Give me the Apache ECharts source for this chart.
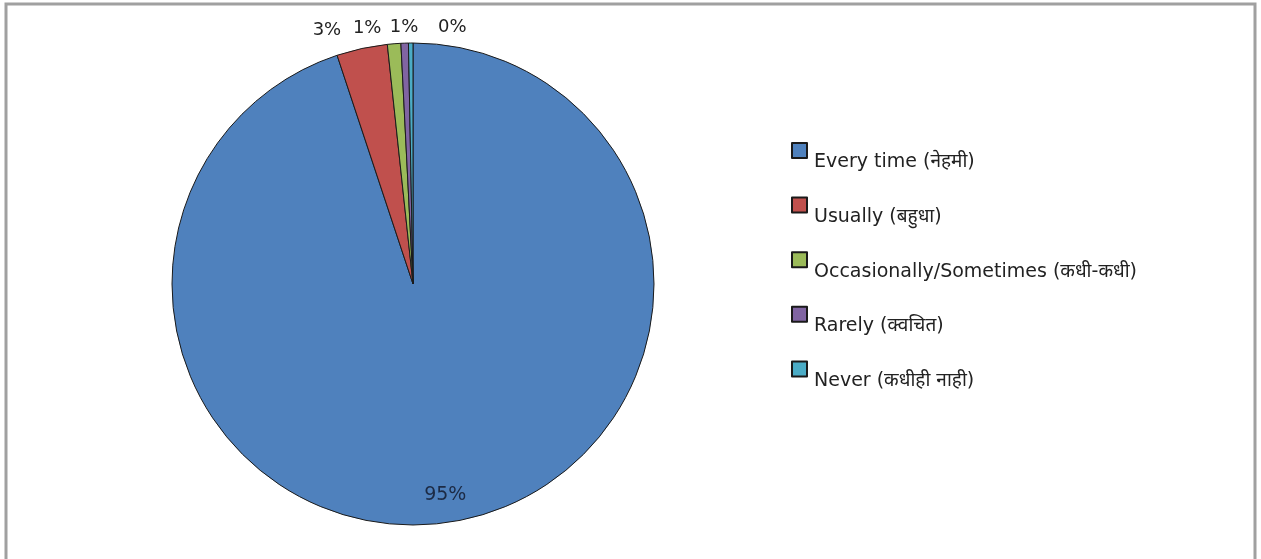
<!DOCTYPE html>
<html>
<head>
<meta charset="utf-8">
<script src="https://cdn.jsdelivr.net/npm/echarts@6/dist/echarts.min.js"></script>
<style>
html,body{margin:0;padding:0;background:#fff;}
#chart{width:1261px;height:559px;}
</style>
</head>
<body>
<div id="chart"></div>
<script>
// ---- data ----
const categories = [
  'Every time (नेहमी)',
  'Usually (बहुधा)',
  'Occasionally/Sometimes (कधी-कधी)',
  'Rarely (क्वचित)',
  'Never (कधीही नाही)'
];
const values = [94.9, 3.4, 0.9, 0.5, 0.3];
const colors = ['#4f81bd', '#c0504d', '#9bbb59', '#8064a2', '#4bacc6'];
// label nudges (style only)
const labelShift = [[12.6, 89.6], [-19, -10], [-12, -7], [14, -8], [56, -8]];

const FONT = '"DejaVu Sans", "Noto Sans", sans-serif';
const chart = echarts.init(document.getElementById('chart'));
chart.setOption({
  animation: false,
  color: colors,
  graphic: [{
    type: 'rect',
    shape: { x: 6, y: 4, width: 1249, height: 620 },
    style: { fill: 'none', stroke: '#a0a0a0', lineWidth: 3 },
    silent: true
  }],
  legend: {
    orient: 'vertical',
    left: 791,
    top: 142,
    padding: 0,
    itemWidth: 15,
    itemHeight: 15,
    itemGap: 24.6,
    icon: 'rect',
    formatter: n => '{t|' + n + '}',
    textStyle: {
      fontFamily: FONT, fontSize: 19, color: '#222',
      rich: { t: { fontFamily: FONT, fontSize: 19, color: '#222', padding: [24, 0, 0, 2] } }
    },
    data: categories
  },
  series: [{
    type: 'pie',
    center: [413, 284],
    radius: 241,
    startAngle: 90,
    clockwise: true,
    avoidLabelOverlap: false,
    itemStyle: { borderColor: '#1a1a1a', borderWidth: 1 },
    label: {
      show: true,
      position: 'outside',
      distanceToLabelLine: 0,
      fontFamily: FONT,
      fontSize: 18,
      color: '#222',
      formatter: p => Math.round(p.value) + '%'
    },
    labelLine: { show: false, length: 8, length2: 0 },
    labelLayout: p => ({ dx: labelShift[p.dataIndex][0], dy: labelShift[p.dataIndex][1] }),
    emphasis: { disabled: true },
    data: categories.map((c, i) => ({
      name: c,
      value: values[i],
      label: i === 0 ? { position: 'inside', color: '#1c2a44', fontSize: 19 } : undefined
    }))
  }]
});
</script>
</body>
</html>
